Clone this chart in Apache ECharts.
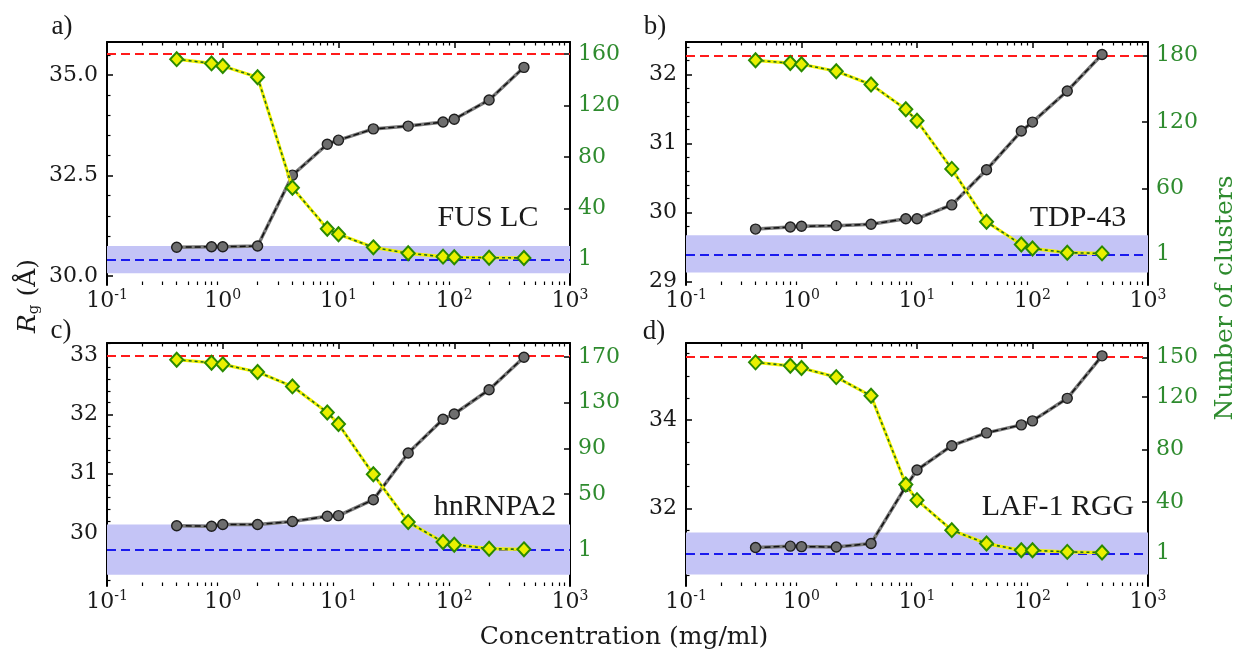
<!DOCTYPE html>
<html><head><meta charset="utf-8">
<script src="https://cdn.jsdelivr.net/npm/echarts@6/dist/echarts.min.js"></script>
<style>html,body{margin:0;padding:0;background:#fff}#c{width:1238px;height:654px}</style>
</head><body><div id="c"></div><script>
// ---------- data ----------
const conc = [0.4, 0.8, 1, 2, 4, 8, 10, 20, 40, 80, 100, 200, 400];
const rgFUS = [30.72, 30.73, 30.73, 30.75, 32.51, 33.28, 33.38, 33.66, 33.73, 33.83, 33.90, 34.38, 35.19];
const clFUS = [156, 152.7, 150.7, 142, 56.3, 24.5, 20.1, 10, 5.4, 2.8, 2.3, 2, 1.8];
const rgTDP = [29.76, 29.79, 29.80, 29.81, 29.83, 29.91, 29.91, 30.11, 30.62, 31.18, 31.31, 31.76, 32.29];
const clTDP = [175.5, 173, 172, 165.7, 153.7, 131.4, 121, 77.7, 30, 9.6, 6, 2.2, 1.6];
const rgHNR = [30.12, 30.11, 30.14, 30.14, 30.19, 30.28, 30.29, 30.56, 31.35, 31.92, 32.01, 32.42, 32.97];
const clHNR = [167.7, 165, 163.6, 156.9, 144.3, 121.5, 111.3, 67.3, 25.5, 8, 5.7, 2.2, 1.6];
const rgLAF = [31.12, 31.15, 31.14, 31.13, 31.21, 32.5, 32.87, 33.42, 33.71, 33.89, 33.98, 34.49, 35.45];
const clLAF = [146.2, 143.6, 141.9, 135, 120.8, 53.5, 41.6, 18.8, 8.6, 3.5, 3.5, 2.3, 1.8];

const panelNames = ['FUS LC', 'TDP-43', 'hnRNPA2', 'LAF-1 RGG'];
const panelTags = ['a)', 'b)', 'c)', 'd)'];
const rgSeries = [rgFUS, rgTDP, rgHNR, rgLAF];
const clSeries = [clFUS, clTDP, clHNR, clLAF];

// reference lines (Rg axis units)
const rgSingle = [30.42, 29.39, 29.71, 30.98];
const rgSingleLo = [30.07, 29.13, 29.29, 30.51];
const rgSingleHi = [30.75, 29.67, 30.14, 31.46];
const rgDense = [35.52, 32.27, 33.0, 35.43];

// tick labels
const xTickVals = [0.1, 1, 10, 100, 1000];
const rgTicks = [[30.0, 32.5, 35.0], [29, 30, 31, 32], [30, 31, 32, 33], [32, 34]];
const rgDecimals = [1, 0, 0, 0];
const clTicks = [[1, 40, 80, 120, 160], [1, 60, 120, 180], [1, 50, 90, 130, 170], [1, 40, 80, 120, 150]];

// axis ranges
const rgRange = [[29.78, 35.82], [28.95, 32.47], [29.10, 33.21], [30.25, 35.74]];
const clRange = [[-19.2, 169.3], [-26.9, 192], [-30.5, 182.3], [-23.6, 160.9]];
const rgMinorStep = [0.5, 0.2, 0.2, 0.5];

// ---------- layout ----------
const grids = [
  {left: 107, top: 42, width: 463, height: 243},
  {left: 686, top: 42, width: 462, height: 243},
  {left: 107, top: 343, width: 463, height: 243},
  {left: 686, top: 343, width: 462, height: 243}
];
const tagPos = [[62, 27], [655, 27], [61, 331], [654, 332]];
const namePos = [[488, 218], [1078, 218], [495, 507], [1058, 507]];

const FONT = 'DejaVu Serif';
const TFONT = 'Liberation Serif';
const INK = '#1a1a1a';
const GREEN = '#2e8b2e';
const TICK_FS = 22;

const minorX = [];
for (let d = -1; d < 3; d++) for (let k = 2; k <= 9; k++) minorX.push(+(k * Math.pow(10, d)).toPrecision(6));

function minorY(i) {
  const out = [];
  const s = rgMinorStep[i];
  const start = Math.ceil(rgRange[i][0] / s - 1e-9);
  for (let k = start; k * s <= rgRange[i][1] + 1e-9; k++) {
    const v = +(k * s).toFixed(4);
    if (!rgTicks[i].some(t => Math.abs(t - v) < 1e-6)) out.push(v);
  }
  return out;
}

const xAxis = [], yAxis = [], series = [], graphic = [];

for (let i = 0; i < 4; i++) {
  const base = {type: 'log', logBase: 10, min: 0.1, max: 1000, gridIndex: i, splitLine: {show: false}, minorTick: {show: false}};
  xAxis.push(Object.assign({}, base, {
    position: 'bottom',
    axisLine: {show: true, lineStyle: {color: '#000', width: 2}},
    axisTick: {show: true, inside: true, length: 6, lineStyle: {color: '#000', width: 1.5}, customValues: xTickVals},
    axisLabel: {show: true, margin: 3, customValues: xTickVals,
      formatter: v => '{b|10}{s|' + Math.round(Math.log10(v)) + '}',
      rich: {b: {fontFamily: FONT, fontSize: TICK_FS, color: INK, lineHeight: 26},
             s: {fontFamily: FONT, fontSize: 14, color: INK, verticalAlign: 'top', lineHeight: 15}}}
  }));
  xAxis.push(Object.assign({}, base, {
    position: 'bottom',
    axisLine: {show: false},
    axisTick: {show: true, inside: true, length: 3.5, lineStyle: {color: '#000', width: 1.2}, customValues: minorX},
    axisLabel: {show: false}
  }));
  xAxis.push(Object.assign({}, base, {
    position: 'top',
    axisLine: {show: true, lineStyle: {color: '#000', width: 2}},
    axisTick: {show: true, inside: true, length: 6, lineStyle: {color: '#000', width: 1.5}, customValues: xTickVals},
    axisLabel: {show: false}
  }));
  xAxis.push(Object.assign({}, base, {
    position: 'top',
    axisLine: {show: false},
    axisTick: {show: true, inside: true, length: 3.5, lineStyle: {color: '#000', width: 1.2}, customValues: minorX},
    axisLabel: {show: false}
  }));

  yAxis.push({
    type: 'value', gridIndex: i, position: 'left', min: rgRange[i][0], max: rgRange[i][1],
    splitLine: {show: false},
    axisLine: {show: true, lineStyle: {color: '#000', width: 2}},
    axisTick: {show: true, inside: true, length: 6, lineStyle: {color: '#000', width: 1.5}, customValues: rgTicks[i]},
    axisLabel: {show: true, margin: 9, customValues: rgTicks[i], fontFamily: FONT, fontSize: TICK_FS, color: INK,
      formatter: v => Number(v).toFixed(rgDecimals[i])}
  });
  yAxis.push({
    type: 'value', gridIndex: i, position: 'left', min: rgRange[i][0], max: rgRange[i][1],
    splitLine: {show: false}, axisLine: {show: false},
    axisTick: {show: true, inside: true, length: 3.5, lineStyle: {color: '#000', width: 1.2}, customValues: minorY(i)},
    axisLabel: {show: false}
  });
  yAxis.push({
    type: 'value', gridIndex: i, position: 'right', min: clRange[i][0], max: clRange[i][1],
    splitLine: {show: false},
    axisLine: {show: true, lineStyle: {color: '#000', width: 2}},
    axisTick: {show: true, inside: true, length: 6, lineStyle: {color: '#000', width: 1.5}, customValues: clTicks[i]},
    axisLabel: {show: true, margin: 8, customValues: clTicks[i], fontFamily: FONT, fontSize: TICK_FS, color: GREEN}
  });

  const xi = i * 4, yl = i * 3, yr = i * 3 + 2;
  const rgData = conc.map((c, j) => [c, rgSeries[i][j]]);
  const clData = conc.map((c, j) => [c, clSeries[i][j]]);

  series.push({
    type: 'line', xAxisIndex: xi, yAxisIndex: yl, data: [], z: 1, silent: true,
    markArea: {silent: true, itemStyle: {color: '#c4c4f6', opacity: 1},
      data: [[{yAxis: rgSingleLo[i]}, {yAxis: rgSingleHi[i]}]]},
    markLine: {silent: true, symbol: 'none', label: {show: false},
      data: [
        {yAxis: rgDense[i], lineStyle: {color: '#ff1a1a', width: 2, type: [9, 5]}},
        {yAxis: rgSingle[i], lineStyle: {color: '#1a1aee', width: 2, type: [9, 5]}}
      ]}
  });
  series.push({type: 'line', xAxisIndex: xi, yAxisIndex: yl, data: rgData, showSymbol: false, silent: true,
    lineStyle: {color: '#7a7a7a', width: 3.5}, z: 3});
  series.push({type: 'line', xAxisIndex: xi, yAxisIndex: yl, data: rgData, showSymbol: false, silent: true,
    lineStyle: {color: '#111', width: 1.5, type: [6, 3]}, z: 4});
  series.push({type: 'scatter', xAxisIndex: xi, yAxisIndex: yl, data: rgData, symbol: 'circle', symbolSize: 10, silent: true,
    itemStyle: {color: '#6e6e6e', borderColor: '#1e1e1e', borderWidth: 1.4, opacity: 1}, z: 5});
  series.push({type: 'line', xAxisIndex: xi, yAxisIndex: yr, data: clData, showSymbol: false, silent: true,
    lineStyle: {color: '#f0f000', width: 3.2}, z: 6});
  series.push({type: 'line', xAxisIndex: xi, yAxisIndex: yr, data: clData, showSymbol: false, silent: true,
    lineStyle: {color: '#1f6a1f', width: 1.6, type: [3, 3]}, z: 7});
  series.push({type: 'scatter', xAxisIndex: xi, yAxisIndex: yr, data: clData, symbol: 'diamond', symbolSize: [13, 14], silent: true,
    itemStyle: {color: '#eaf000', borderColor: '#2a8a00', borderWidth: 2, opacity: 1}, z: 8});

  graphic.push({type: 'text', x: tagPos[i][0], y: tagPos[i][1], z: 100,
    style: {text: panelTags[i], font: '27px "' + TFONT + '"', fill: INK, align: 'center', verticalAlign: 'middle', textAlign: 'center', textVerticalAlign: 'middle'}});
  graphic.push({type: 'text', x: namePos[i][0], y: namePos[i][1], z: 100,
    style: {text: panelNames[i], font: '30px "' + TFONT + '"', fill: INK, align: 'center', verticalAlign: 'middle', textAlign: 'center', textVerticalAlign: 'middle'}});
}

graphic.push({type: 'text', x: 624, y: 637, z: 100,
  style: {text: 'Concentration (mg/ml)', font: '25px "' + FONT + '"', fill: INK, align: 'center', verticalAlign: 'middle', textAlign: 'center', textVerticalAlign: 'middle'}});
graphic.push({type: 'text', x: 1225, y: 298, rotation: Math.PI / 2, z: 100,
  style: {text: 'Number of clusters', font: '25px "' + FONT + '"', fill: GREEN, align: 'center', verticalAlign: 'middle', textAlign: 'center', textVerticalAlign: 'middle'}});
graphic.push({type: 'text', x: 28, y: 296, rotation: Math.PI / 2, z: 100,
  style: {text: '{r|R}{g|g}{t| (Å)}', align: 'center', verticalAlign: 'middle', textAlign: 'center', textVerticalAlign: 'middle',
    rich: {r: {fontFamily: FONT, fontStyle: 'italic', fontSize: 25, fill: INK, color: INK, lineHeight: 28},
           g: {fontFamily: FONT, fontSize: 15, fill: INK, color: INK, verticalAlign: 'bottom', lineHeight: 14},
           t: {fontFamily: FONT, fontSize: 25, fill: INK, color: INK, lineHeight: 28}}}});

const chart = echarts.init(document.getElementById('c'), null, {renderer: 'canvas'});
chart.setOption({animation: false, backgroundColor: '#fff', grid: grids, xAxis, yAxis, series, graphic});
</script></body></html>
